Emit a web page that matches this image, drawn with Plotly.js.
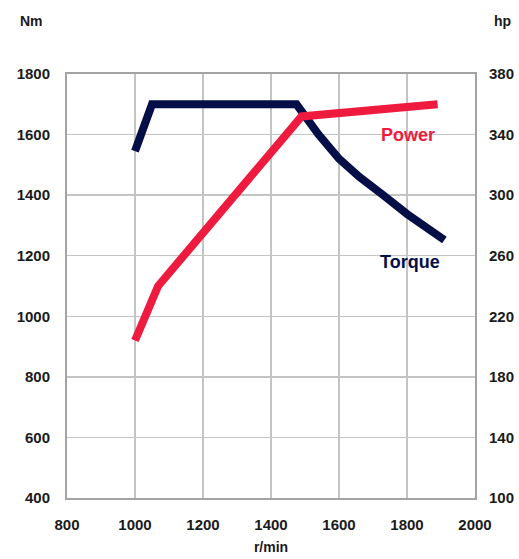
<!DOCTYPE html>
<html>
<head>
<meta charset="utf-8">
<script src="https://cdn.plot.ly/plotly-3.0.1.min.js"></script>
<style>html,body{margin:0;padding:0;background:#fff;}#chart{width:519px;height:559px;}</style>
</head>
<body>
<div id="chart"></div>
<script>
const torqueRpm = [1000, 1050, 1475, 1540, 1600, 1660, 1730, 1800, 1910];
const torqueNm = [1545, 1700, 1700, 1600, 1520, 1460, 1400, 1338, 1252];
const powerRpm = [1000, 1068, 1490, 1890];
const powerHp = [204, 240, 352, 360];
const xTicks = [800, 1000, 1200, 1400, 1600, 1800, 2000];
const nmTicks = [400, 600, 800, 1000, 1200, 1400, 1600, 1800];
const hpTicks = [100, 140, 180, 220, 260, 300, 340, 380];

const navy = '#050f47';
const red = '#ee1b3e';
const fam = 'Liberation Sans, Arial, sans-serif';
const tickFont = {family: fam, size: 15, color: '#1a1a1a', weight: 'bold'};
const unitFont = {family: fam, size: 14, color: '#1a1a1a', weight: 'bold'};

const traces = [
  {x: torqueRpm, y: torqueNm, type: 'scatter', mode: 'lines', name: 'Torque',
   line: {color: navy, width: 8}, yaxis: 'y', hoverinfo: 'skip'},
  {x: powerRpm, y: powerHp, type: 'scatter', mode: 'lines', name: 'Power',
   line: {color: red, width: 8}, yaxis: 'y2', hoverinfo: 'skip'}
];

const layout = {
  width: 519, height: 559,
  margin: {l: 67, r: 44, t: 74, b: 61},
  paper_bgcolor: '#fff', plot_bgcolor: '#fff',
  showlegend: false,
  xaxis: {
    range: [800, 2000], tickvals: xTicks, ticktext: xTicks.map(String),
    showgrid: true, gridcolor: '#c4c4c4', gridwidth: 1.5,
    showline: true, linecolor: '#a3a3a3', linewidth: 2, mirror: true,
    zeroline: false, ticks: 'outside', ticklen: 12, tickcolor: 'rgba(0,0,0,0)',
    tickfont: tickFont,
    title: {text: 'r/min', font: unitFont, standoff: 10}
  },
  yaxis: {
    range: [400, 1800], tickvals: nmTicks, ticktext: nmTicks.map(String),
    showgrid: true, gridcolor: '#c4c4c4', gridwidth: 1.5,
    showline: true, linecolor: '#a3a3a3', linewidth: 2, mirror: true,
    zeroline: false, ticks: 'outside', ticklen: 12, tickcolor: 'rgba(0,0,0,0)',
    tickfont: tickFont
  },
  yaxis2: {
    range: [100, 380], tickvals: hpTicks, ticktext: hpTicks.map(String),
    overlaying: 'y', side: 'right', showgrid: false, zeroline: false,
    showline: false, ticks: 'outside', ticklen: 10, tickcolor: 'rgba(0,0,0,0)',
    tickfont: tickFont
  },
  annotations: [
    {text: 'Nm', xref: 'paper', yref: 'paper', x: -0.12, y: 1.125, xanchor: 'left', yanchor: 'middle', showarrow: false, font: unitFont},
    {text: 'hp', xref: 'paper', yref: 'paper', x: 1.094, y: 1.125, xanchor: 'right', yanchor: 'middle', showarrow: false, font: unitFont},
    {text: 'Power', xref: 'x', yref: 'y', x: 1804, y: 1599, xanchor: 'center', yanchor: 'middle', showarrow: false,
     font: {family: fam, size: 18, color: red, weight: 'bold'}},
    {text: 'Torque', xref: 'x', yref: 'y', x: 1810, y: 1180, xanchor: 'center', yanchor: 'middle', showarrow: false,
     font: {family: fam, size: 18, color: navy, weight: 'bold'}}
  ]
};

Plotly.newPlot('chart', traces, layout, {displayModeBar: false, staticPlot: true});
</script>
</body>
</html>
